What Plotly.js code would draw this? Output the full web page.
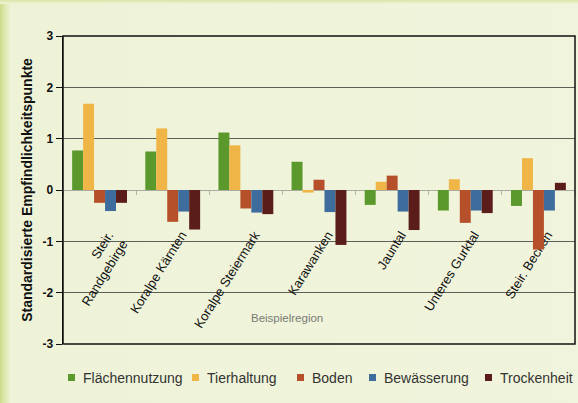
<!DOCTYPE html>
<html>
<head>
<meta charset="utf-8">
<script src="https://cdn.plot.ly/plotly-3.0.1.min.js"></script>
<style>
html,body{margin:0;padding:0;background:#eff3d9;}
#wrap{position:absolute;left:0;top:0;width:578px;height:403px;background:linear-gradient(90deg,#cddd8a 0px,#dfe9b0 5px,#eef3d8 11px,#f1f4dc 100%);}
#topstrip{position:absolute;left:0;top:0;width:578px;height:4px;background:linear-gradient(180deg,#dbe6a6,#eef3d8);}
#chart{position:absolute;left:0;top:4px;width:578px;height:399px;}
</style>
</head>
<body>
<div id="wrap"><div id="topstrip"></div><div id="chart"></div></div>
<script>
const regions = ["Steir.<br>Randgebirge", "Koralpe Kärnten", "Koralpe Steiermark", "Karawanken", "Jauntal", "Unteres Gurktal", "Steir. Becken"];
const seriesNames = ["Flächennutzung", "Tierhaltung", "Boden", "Bewässerung", "Trockenheit"];
const flaechennutzung = [0.77, 0.75, 1.12, 0.55, -0.29, -0.40, -0.31];
const tierhaltung     = [1.68, 1.20, 0.87, -0.05, 0.16, 0.21, 0.62];
const boden           = [-0.25, -0.62, -0.36, 0.20, 0.28, -0.64, -1.16];
const bewaesserung    = [-0.41, -0.42, -0.44, -0.43, -0.42, -0.40, -0.40];
const trockenheit     = [-0.25, -0.77, -0.47, -1.07, -0.78, -0.45, 0.14];
const yTicks = [-3, -2, -1, 0, 1, 2, 3];

const seriesValues = [flaechennutzung, tierhaltung, boden, bewaesserung, trockenheit];
const colors = ["#5b992d", "#f0b547", "#b6502a", "#3e6d9d", "#5b1d19"];

// legend layout (paper-pixel positions of the legend squares)
const legendSquarePx = [71, 195, 300, 372, 488];
const plotLeft = 63, plotWidth = 512;

// bars live on x2 (drawn over the label axis x, which sits below all traces)
const traces = seriesValues.map((vals, i) => ({
  type: "bar", x: regions, y: vals, name: seriesNames[i], xaxis: "x2", yaxis: "y",
  marker: {color: colors[i]}, showlegend: false, hoverinfo: "none"
}));
traces.push({type: "scatter", mode: "markers", x: [null], y: [null], xaxis: "x", yaxis: "y",
  showlegend: false, hoverinfo: "none", marker: {opacity: 0}});

const annotations = [
  {text: "Beispielregion", xref: "paper", yref: "paper", x: 0.4375, y: 0.084,
   xanchor: "center", yanchor: "middle", showarrow: false, font: {size: 11.5, color: "#7a7a74"}}
];
seriesNames.forEach((nm, i) => {
  const sx = (legendSquarePx[i] - plotLeft) / plotWidth;
  const tx = (legendSquarePx[i] + 11 - plotLeft) / plotWidth;
  annotations.push({text: "", xref: "paper", yref: "paper", x: sx, y: -0.11,
    xanchor: "center", yanchor: "middle", showarrow: false, width: 7, height: 7,
    bgcolor: colors[i], borderpad: 0, borderwidth: 0});
  annotations.push({text: nm, xref: "paper", yref: "paper", x: tx, y: -0.11,
    xanchor: "left", yanchor: "middle", showarrow: false, borderpad: 0,
    font: {size: 14, color: "#333"}});
});

const layout = {
  width: 578, height: 399,
  paper_bgcolor: "rgba(0,0,0,0)",
  plot_bgcolor: "rgba(0,0,0,0)",
  font: {family: "Liberation Sans, Arial, sans-serif", color: "#111"},
  margin: {l: 63, r: 3, t: 32, b: 59},
  barmode: "group", bargap: 0.25, bargroupgap: 0,
  showlegend: false,
  xaxis: {
    anchor: "free", position: 0.5, type: "linear",
    range: [-0.5 - 0.12, 6.5 - 0.12],
    tickvals: regions.map((r, i) => i), ticktext: regions,
    tickangle: -58, tickfont: {size: 13, color: "#111"},
    ticks: "", ticklabelstandoff: 34,
    showline: false, showgrid: false, zeroline: false, layer: "below traces"
  },
  xaxis2: {
    overlaying: "x", type: "category", anchor: "free", position: 0.5,
    showline: true, linecolor: "#a9aaa0", linewidth: 1,
    ticks: "outside", tickson: "boundaries", ticklen: 4, tickcolor: "#b4b5ab",
    showticklabels: false,
    showgrid: false, zeroline: false, layer: "below traces"
  },
  yaxis: {
    range: [-3, 3], tickvals: yTicks, ticktext: yTicks.map(String),
    showline: true, linecolor: "#111", linewidth: 1.5,
    ticks: "outside", ticklen: 6, tickcolor: "#111", tickwidth: 1,
    tickfont: {size: 12, color: "#111", weight: "bold"},
    showgrid: true, gridcolor: "#5d6058", gridwidth: 1,
    zeroline: false,
    title: {text: "Standardisierte Empfindlichkeitspunkte", font: {size: 14, weight: "bold", color: "#111"}, standoff: 6}
  },
  shapes: [
    {type: "rect", xref: "paper", yref: "paper", x0: 0, x1: 1, y0: 0, y1: 1,
     line: {color: "#111", width: 1.5}, fillcolor: "rgba(0,0,0,0)"}
  ],
  annotations: annotations
};

Plotly.newPlot("chart", traces, layout, {staticPlot: true, displayModeBar: false});
</script>
</body>
</html>
